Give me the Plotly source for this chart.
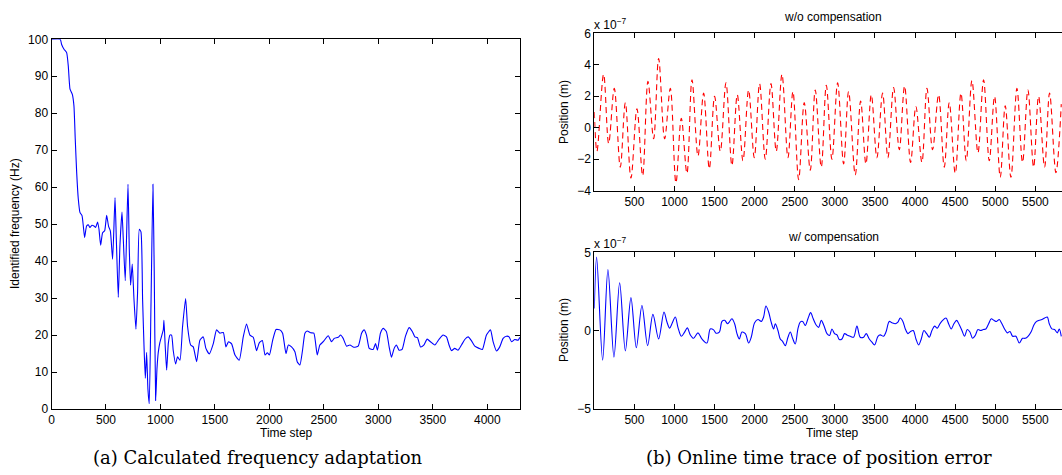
import plotly.graph_objects as go

W, H = 1062, 475

# ---------------- data ----------------
# (a) identified frequency (Hz) vs time step
freq_steps = [
    0, 80, 93, 115, 139, 154, 170, 191, 206, 218,
    231, 246, 261, 280, 292, 304, 322, 338, 353, 371,
    390, 405, 423, 436, 451, 469, 488, 506, 524, 540,
    561, 583, 595, 613, 628, 647, 659, 677, 702, 714,
    726, 741, 757, 775, 790, 806, 821, 836, 849, 861,
    873, 885, 897, 913, 931, 943, 956, 968, 980, 995,
    1013, 1026, 1032, 1044, 1057, 1072, 1087, 1102, 1117, 1139,
    1157, 1179, 1203, 1231, 1249, 1277, 1301, 1332, 1362, 1393,
    1417, 1448, 1485, 1515, 1546, 1577, 1601, 1625, 1653, 1684,
    1723, 1760, 1790, 1821, 1852, 1882, 1907, 1935, 1960, 1981,
    2000, 2030, 2061, 2096, 2121, 2152, 2174, 2203, 2234, 2255,
    2280, 2304, 2326, 2347, 2378, 2408, 2439, 2463, 2494, 2540,
    2570, 2595, 2631, 2653, 2677, 2708, 2739, 2775, 2815, 2846,
    2870, 2891, 2916, 2952, 2974, 2992, 3019, 3044, 3074, 3099,
    3120, 3145, 3166, 3190, 3218, 3249, 3283, 3313, 3335, 3359,
    3387, 3417, 3448, 3478, 3518, 3558, 3594, 3625, 3649, 3671,
    3701, 3732, 3763, 3793, 3824, 3854, 3885, 3924, 3955, 3992,
    4029, 4053, 4084, 4114, 4145, 4176, 4200, 4222, 4252, 4283,
    4298,
]
freq_hz = [
    100, 100, 98.6, 97.3, 96.4, 92.8, 86.5, 85.1, 82, 73,
    64, 56.8, 53.2, 52.3, 49.5, 46.4, 49.5, 49.8, 49.1, 49.7,
    49.5, 49.1, 50.6, 48.6, 44.3, 47.7, 48.2, 52.4, 49.4, 48.2,
    40.5, 57.2, 45.9, 30.2, 44.1, 53.3, 45.9, 34.7, 60.8, 43.2,
    33.5, 39.2, 29.7, 21.6, 31.5, 48.6, 47.9, 29.7, 17.1, 8.3,
    15.3, 5.4, 1.4, 27.9, 60.8, 36.9, 2.3, 10.8, 15.3, 18,
    20, 21.4, 24, 16.8, 10.5, 17.7, 20, 20, 15.9, 12.2,
    14.1, 13.2, 22.3, 29.9, 22.3, 17.3, 16.8, 12.8, 18.6, 19.5,
    16.4, 14.9, 17.7, 21.4, 20.5, 20.7, 16.8, 18.2, 17.6, 14.6,
    13.2, 19.5, 23, 20, 19.4, 15.8, 17.9, 18.5, 14.6, 15.2,
    14.6, 18.6, 21.5, 21.4, 20.5, 15, 17.3, 16.8, 15.5, 12.8,
    11.9, 15.9, 20.5, 21.1, 20.6, 20.5, 14.6, 17.3, 18.2, 19.8,
    18.2, 19.1, 19.4, 20, 19.1, 17, 17.3, 16.7, 17, 20.5,
    21.4, 20, 16.4, 16.1, 17.7, 15.9, 20.5, 21.8, 20.9, 16.8,
    14, 16.4, 17.3, 15.9, 16.1, 19.7, 22, 20.9, 19.5, 19.3,
    16.8, 17.3, 18.9, 18.2, 17.3, 18.9, 20, 19.5, 17.3, 15.8,
    16.4, 15.9, 17.3, 18.8, 19.5, 18.5, 17, 16.4, 16.1, 20,
    21.4, 18.2, 15.7, 16.8, 19.1, 19.7, 19.5, 18.2, 18.8, 18.6,
    19.4,
]

# (b) position error, units of 1e-7 m
wo_steps = [
    0, 33, 116, 179, 249, 324, 387, 457, 532, 603,
    669, 740, 802, 877, 948, 1018, 1085, 1155, 1218, 1293,
    1363, 1434, 1500, 1571, 1642, 1716, 1783, 1854, 1924, 1995,
    2061, 2132, 2203, 2269, 2340, 2415, 2477, 2548, 2618, 2693,
    2755, 2830, 2893, 2963, 3034, 3109, 3171, 3254, 3321, 3387,
    3454, 3524, 3595, 3661, 3732, 3803, 3869, 3944, 4010, 4085,
    4148, 4218, 4293, 4364, 4426, 4501, 4572, 4638, 4709, 4784,
    4854, 4925, 4991, 5062, 5124, 5195, 5270, 5340, 5407, 5478,
    5540, 5615, 5677, 5756, 5823,
]
wo_pos = [
    1.0, -1.5, 3.4, -1.0, 2.5, -2.5, 1.6, -3.2, 1.2, -3.05,
    2.95, -0.7, 4.4, -0.7, 2.5, -3.5, 0.6, -2.9, 3.05, -1.8,
    2.2, -2.6, 2.0, -1.5, 2.85, -2.4, 2.1, -2.1, 2.4, -1.9,
    2.8, -2.0, 2.8, -1.5, 3.4, -1.9, 2.3, -3.3, 1.6, -2.7,
    2.4, -2.5, 2.7, -2.0, 2.85, -2.3, 2.3, -3.0, 1.7, -2.3,
    2.1, -1.9, 2.2, -1.9, 2.55, -1.4, 2.65, -2.2, 1.35, -2.2,
    2.5, -1.4, 2.1, -2.5, 1.6, -2.9, 2.2, -2.1, 3.0, -1.6,
    3.05, -2.1, 2.0, -3.15, 1.4, -3.15, 2.5, -2.2, 2.4, -2.5,
    2.0, -2.5, 2.2, -2.85, 1.5,
]

w_steps = [
    0, 29, 104, 170, 245, 316, 387, 457, 524, 594,
    665, 731, 802, 869, 906, 939, 968, 1010, 1043, 1085,
    1126, 1160, 1197, 1238, 1293, 1342, 1405, 1446, 1488, 1517,
    1559, 1592, 1625, 1662, 1683, 1716, 1750, 1779, 1808, 1841,
    1883, 1924, 1957, 1999, 2041, 2082, 2111, 2140, 2174, 2203,
    2236, 2257, 2290, 2319, 2348, 2381, 2415, 2444, 2473, 2506,
    2539, 2568, 2598, 2631, 2664, 2697, 2730, 2764, 2797, 2830,
    2863, 2901, 2934, 2963, 2996, 3026, 3055, 3088, 3121, 3150,
    3192, 3233, 3275, 3316, 3358, 3391, 3429, 3462, 3495, 3537,
    3566, 3607, 3637, 3678, 3711, 3753, 3786, 3815, 3848, 3878,
    3911, 3944, 3977, 4011, 4044, 4077, 4110, 4144, 4177, 4210,
    4243, 4277, 4310, 4343, 4385, 4418, 4451, 4484, 4518, 4551,
    4584, 4617, 4651, 4684, 4717, 4750, 4784, 4817, 4850, 4883,
    4917, 4950, 4983, 5016, 5050, 5083, 5116, 5149, 5183, 5216,
    5257, 5299, 5340, 5374, 5408, 5449, 5483, 5515, 5548, 5581,
    5616, 5649, 5673, 5706, 5740, 5773, 5798, 5823,
]
w_pos = [
    1.4, 4.7, -1.9, 3.9, -1.7, 3.05, -1.3, 2.1, -1.1, 1.6,
    -0.97, 1.03, -0.54, 1.18, 0.54, 0.15, 0.43, 0.86, 0.2, -0.37,
    -0.1, 0.17, -0.28, -0.5, -0.15, -0.54, -0.8, 0.1, 0.04, -0.17,
    -0.1, 0.58, 0.65, 0.43, 0.54, 0.75, 0.43, -0.2, -0.54, -0.1,
    -0.2, -0.8, -0.43, 0.5, 0.7, 0.58, 0.86, 1.57, 1.18, 0.58,
    0.1, 0.43, 0, -0.54, -0.7, -0.97, -0.43, -0.1, -0.5, -0.86,
    0.1, 0.54, 0.58, 0.32, 0.75, 1.14, 0.75, 0.37, 0.2, 0.65,
    0.32, -0.2, -0.32, 0.1, -0.2, -0.28, -0.58, -0.54, -0.2, -0.28,
    -0.37, -0.43, 0.28, -0.43, -0.43, -0.2, -0.54, -0.75, -0.92, -0.37,
    -0.28, -0.37, -0.1, 0.58, 0.5, 0.43, 0.54, 0.8, 0.58, 0.1,
    -0.2, -0.06, 0, -0.54, -0.92, -0.54, 0, -0.2, -0.43, 0,
    0.28, 0.15, 0.43, 0.65, 0.8, 0.43, 0.1, 0.43, 0.65, 0.37,
    0, -0.37, 0.06, -0.1, -0.5, -0.32, 0.06, 0, 0.06, 0.1,
    0.43, 0.75, 0.65, 0.58, 0.7, 0.43, 0.1, -0.15, -0.06, -0.37,
    -0.37, -0.8, -0.5, -0.5, -0.37, -0.06, 0.37, 0.58, 0.65, 0.7,
    0.8, 0.86, 0.43, 0.1, 0.06, -0.15, 0.1, -0.37,
]

freq_ticks = [0, 500, 1000, 1500, 2000, 2500, 3000, 3500, 4000]
freq_yticks = [0, 10, 20, 30, 40, 50, 60, 70, 80, 90, 100]
pos_xticks = [500, 1000, 1500, 2000, 2500, 3000, 3500, 4000, 4500, 5000, 5500]
wo_yticks = [-4, -2, 0, 2, 4, 6]
w_yticks = [-5, 0, 5]

# ---------------- figure ----------------
SANS = "Liberation Sans, Arial, Helvetica, sans-serif"
SERIF = "DejaVu Serif, serif"
FS = 12


def px(x):
    return x / W


def py(y):
    return 1 - y / H


fig = go.Figure()
fig.add_trace(go.Scatter(x=freq_steps, y=freq_hz, mode="lines",
                         line=dict(color="#0000ff", width=1.1, shape="spline", smoothing=0.5),
                         xaxis="x", yaxis="y", showlegend=False, hoverinfo="skip"))
fig.add_trace(go.Scatter(x=wo_steps, y=wo_pos, mode="lines",
                         line=dict(color="#ff0000", width=1.1, dash="6px,4px", shape="spline", smoothing=1.0),
                         xaxis="x2", yaxis="y2", showlegend=False, hoverinfo="skip"))
fig.add_trace(go.Scatter(x=w_steps, y=w_pos, mode="lines",
                         line=dict(color="#0000ff", width=1.1, shape="spline", smoothing=0.9),
                         xaxis="x3", yaxis="y3", showlegend=False, hoverinfo="skip"))

common = dict(showline=True, linecolor="black", linewidth=1, ticks="inside", ticklen=5,
              tickwidth=1, tickcolor="black", showgrid=False, zeroline=False,
              tickfont=dict(family=SANS, size=FS, color="black"), automargin=False)

L_X0, L_X1, L_YT, L_YB = 51.5, 520, 39.3, 409
R_X0, R_X1 = 594.3, 1062
T_YT, T_YB = 33.3, 190.7
B_YT, B_YB = 252.3, 408.7

fig.update_layout(
    width=W, height=H, margin=dict(l=0, r=0, t=0, b=0),
    paper_bgcolor="white", plot_bgcolor="white",
    xaxis=dict(common, domain=[px(L_X0), px(L_X1)], range=[0, 4300], tickvals=freq_ticks,
               anchor="y", mirror="allticks"),
    yaxis=dict(common, domain=[py(L_YB), py(L_YT)], range=[0, 100], tickvals=freq_yticks,
               anchor="x", mirror="allticks"),
    xaxis2=dict(common, domain=[px(R_X0), px(R_X1)], range=[0, 5832], tickvals=pos_xticks,
                anchor="y2", mirror="allticks"),
    yaxis2=dict(common, domain=[py(T_YB), py(T_YT)], range=[-4, 6], tickvals=wo_yticks,
                anchor="x2", mirror=False),
    xaxis3=dict(common, domain=[px(R_X0), px(R_X1)], range=[0, 5832], tickvals=pos_xticks,
                anchor="y3", mirror="allticks"),
    yaxis3=dict(common, domain=[py(B_YB), py(B_YT)], range=[-5, 5], tickvals=w_yticks,
                anchor="x3", mirror=False),
)

ann = []


def text(x, y, s, size=FS, family=SANS, angle=0, xanchor="center", yanchor="middle"):
    ann.append(dict(x=px(x), y=py(y), xref="paper", yref="paper", text=s, showarrow=False,
                    textangle=angle, xanchor=xanchor, yanchor=yanchor,
                    font=dict(family=family, size=size, color="black")))


text(15, 224, "Identified frequency (Hz)", angle=-90)
text(286, 433, "Time step")
text(832, 433, "Time step")
text(564, 112, "Position (m)", angle=-90)
text(564, 330, "Position (m)", angle=-90)
text(833, 17, "w/o compensation")
text(833, 237, "w/ compensation")
text(592, 24, "x 10<sup>\u22127</sup>", xanchor="left")
text(592, 243, "x 10<sup>\u22127</sup>", xanchor="left")
text(258, 457, "(a) Calculated frequency adaptation", size=18, family=SERIF)
text(819, 457, "(b) Online time trace of position error", size=18, family=SERIF)

fig.update_layout(annotations=ann)
fig.write_html("out.html")
